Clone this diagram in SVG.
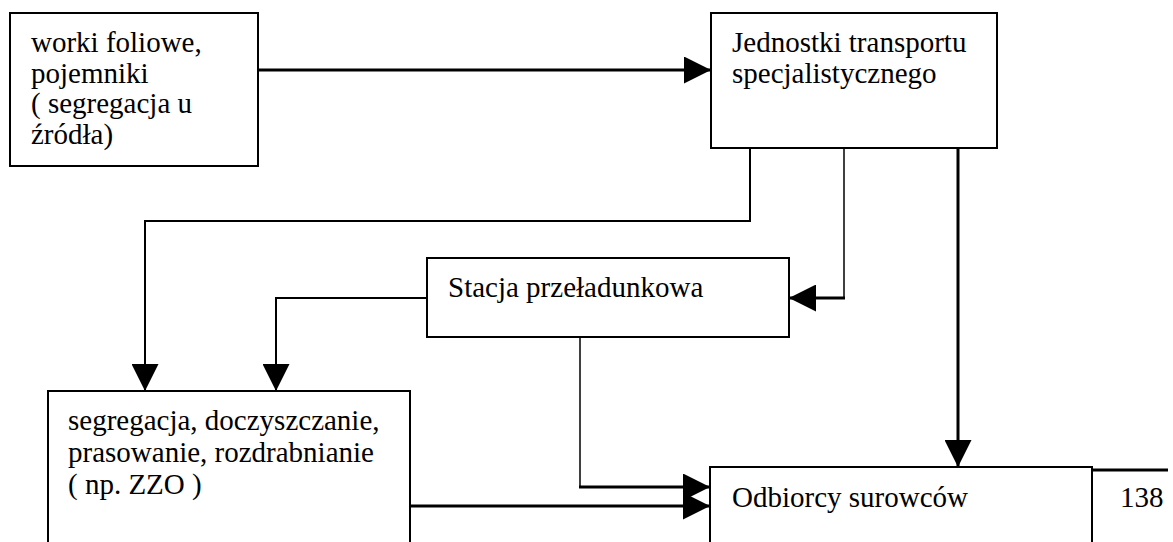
<svg xmlns="http://www.w3.org/2000/svg" width="1173" height="542" viewBox="0 0 1173 542">
  <style>
    .box { fill: #fff; stroke: #000; stroke-width: 2; }
    .lbl { font-size: 29px; fill: #000; }
    .wire { fill: none; stroke: #000; }
    .thin { stroke-width: 1.5; }
    .mid { stroke-width: 2; }
    .thick { stroke-width: 3; }
  </style>
  <defs>
    <marker id="arrow" markerUnits="userSpaceOnUse" markerWidth="27" markerHeight="27" refX="27" refY="13.5" orient="auto">
      <path d="M0,0 L27,13.5 L0,27 z" fill="#000"/>
    </marker>
  </defs>
  <rect width="1173" height="542" fill="#fff"/>

  <g id="connectors">
    <path class="wire thick" d="M258,70 H711" marker-end="url(#arrow)"/>
    <path class="wire mid" d="M750,148 V221 H145 V391" marker-end="url(#arrow)"/>
    <path class="wire thin" d="M844,148 V298"/>
    <path class="wire thick" d="M845,298 H789" marker-end="url(#arrow)"/>
    <path class="wire mid" d="M427,298 H276 V391" marker-end="url(#arrow)"/>
    <path class="wire thick" d="M958,148 V467" marker-end="url(#arrow)"/>
    <path class="wire thin" d="M580,337 V487"/>
    <path class="wire thick" d="M579,487 H710" marker-end="url(#arrow)"/>
    <path class="wire thick" d="M410,506 H710" marker-end="url(#arrow)"/>
  </g>

  <g font-family="'Liberation Serif', 'DejaVu Serif', serif">
    <g id="node-source">
      <rect class="box" x="10" y="13" width="248" height="153"/>
      <text class="lbl" x="31" y="52">worki foliowe,</text>
      <text class="lbl" x="31" y="83">pojemniki</text>
      <text class="lbl" x="31" y="113">( segregacja u</text>
      <text class="lbl" x="31" y="144">źródła)</text>
    </g>

    <g id="node-transport">
      <rect class="box" x="711" y="13" width="286" height="135"/>
      <text class="lbl" x="732" y="52">Jednostki transportu</text>
      <text class="lbl" x="732" y="83">specjalistycznego</text>
    </g>

    <g id="node-station">
      <rect class="box" x="427" y="258" width="362" height="79"/>
      <text class="lbl" x="448" y="297">Stacja przeładunkowa</text>
    </g>

    <g id="node-processing">
      <rect class="box" x="48" y="391" width="362" height="200"/>
      <text class="lbl" x="68" y="430">segregacja, doczyszczanie,</text>
      <text class="lbl" x="68" y="462">prasowanie, rozdrabnianie</text>
      <text class="lbl" x="68" y="494">( np. ZZO )</text>
    </g>

    <g id="node-recipients">
      <rect class="box" x="710" y="467" width="382" height="120"/>
      <text class="lbl" x="732" y="507">Odbiorcy surowców</text>
    </g>

    <g id="page-number">
      <path class="wire thick" d="M1092,470 H1168"/>
      <text class="lbl" x="1120" y="507">138</text>
    </g>
  </g>
</svg>
